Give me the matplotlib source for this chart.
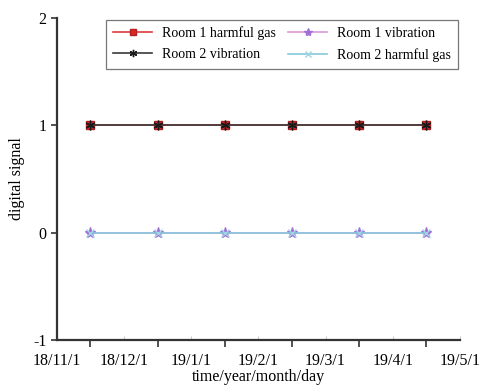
import matplotlib
matplotlib.use('Agg')
import matplotlib.pyplot as plt

plt.rcParams['font.family'] = ['Liberation Serif', 'DejaVu Serif']
plt.rcParams['axes.unicode_minus'] = False

# 月份刻度标签（等距）与采样点（每月中旬）
month_labels = ['18/11/1', '18/12/1', '19/1/1', '19/2/1', '19/3/1', '19/4/1', '19/5/1']
sample_pos = [0.5, 1.5, 2.5, 3.5, 4.5, 5.5]

room1_gas = [1, 1, 1, 1, 1, 1]
room2_vib = [1, 1, 1, 1, 1, 1]
room1_vib = [0, 0, 0, 0, 0, 0]
room2_gas = [0, 0, 0, 0, 0, 0]

fig = plt.figure(figsize=(4.82, 3.9), dpi=100)
ax = fig.add_axes([0.118, 0.128, 0.836, 0.826])

ax.plot(sample_pos, room1_gas, color='#e03a3a', lw=1.2, marker='s', ms=5.5,
        mfc='#d9262a', mec='#b02020', label='Room 1 harmful gas', zorder=3)
ax.plot(sample_pos, room2_vib, color='#3a3a3a', lw=1.2, marker=(6, 2, 0), ms=7,
        mec='#1a1a1a', mew=1.0, label='Room 2 vibration', zorder=4)
ax.plot(sample_pos, room1_vib, color='#dc9ad8', lw=1.2, marker='*', ms=8,
        mfc='#a070d8', mec='#a070d8', label='Room 1 vibration', zorder=3)
ax.plot(sample_pos, room2_gas, color='#86c8dc', lw=1.2, marker='x', ms=6,
        mec='#9fd4e4', mew=1.0, label='Room 2 harmful gas', zorder=4)

ax.set_xlim(0, len(month_labels) - 1)
ax.set_ylim(-1, 2)
ax.set_yticks([-1, 0, 1, 2])
ax.set_xticks(range(len(month_labels)))
ax.set_xticklabels(month_labels)
# 刻度线画在采样点处，标签放在月份处
ax.set_xticks(sample_pos, minor=True)
ax.tick_params(axis='x', which='major', length=3, width=0.8, color='#cccccc',
               direction='in', labelsize=11.5, pad=9)
ax.tick_params(axis='x', which='minor', length=5, width=1.2, color='#333333', direction='out')
ax.tick_params(axis='y', length=4, width=1.2, color='#333333', labelsize=11.5)

for s in ['top', 'right']:
    ax.spines[s].set_visible(False)
for s in ['left', 'bottom']:
    ax.spines[s].set_color('#333333')
    ax.spines[s].set_linewidth(1.6)

ax.set_ylabel('digital signal', fontsize=11.5, labelpad=6)
ax.set_xlabel('time/year/month/day', fontsize=11.5, labelpad=0)

leg = ax.legend(ncol=2, loc='upper right', bbox_to_anchor=(0.995, 0.995), fontsize=10,
                frameon=True, fancybox=False, edgecolor='#555555', markerscale=0.75,
                handlelength=2.8, columnspacing=0.9, borderpad=0.5, labelspacing=0.55,
                handletextpad=0.7, borderaxespad=0)
leg.get_frame().set_linewidth(0.9)

fig.savefig('out.png', dpi=100, facecolor='white')
